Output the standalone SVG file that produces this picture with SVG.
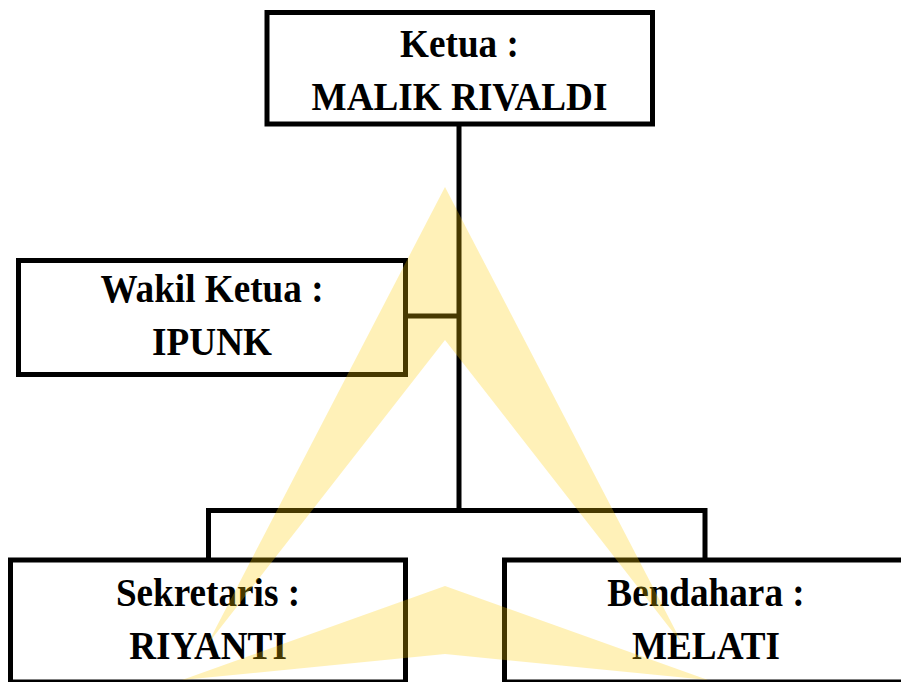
<svg xmlns="http://www.w3.org/2000/svg" width="901" height="682" viewBox="0 0 901 682">
  <style>
    .box { fill: #ffffff; stroke: #000000; stroke-width: 5; }
    .conn { fill: none; stroke: #000000; stroke-width: 5; stroke-linecap: butt; stroke-linejoin: miter; }
    .lbl { font-family: "Liberation Serif", "Times New Roman", serif; font-weight: bold; font-size: 40px; fill: #000000; text-anchor: middle; }
    .wm { fill: #FFCC00; fill-opacity: 0.28; }
  </style>
  <rect x="0" y="0" width="901" height="682" fill="#ffffff"/>
  <g id="connectors">
    <path class="conn" d="M459 124 V510.5"/>
    <path class="conn" d="M405.5 316 H459"/>
    <path class="conn" d="M208.5 560 V510.5 H705 V560"/>
  </g>
  <g id="ketua">
    <rect class="box" x="267" y="12.5" width="385.5" height="111.5"/>
    <text class="lbl" transform="translate(459.5,57) scale(0.93,1)">Ketua :</text>
    <text class="lbl" transform="translate(459.5,110) scale(0.93,1)">MALIK RIVALDI</text>
  </g>
  <g id="wakil">
    <rect class="box" x="18.5" y="260.5" width="387" height="114"/>
    <text class="lbl" transform="translate(212,302) scale(0.93,1)">Wakil Ketua :</text>
    <text class="lbl" transform="translate(212,355) scale(0.93,1)">IPUNK</text>
  </g>
  <g id="sekretaris">
    <rect class="box" x="10.5" y="560" width="395" height="122"/>
    <text class="lbl" transform="translate(208,606) scale(0.93,1)">Sekretaris :</text>
    <text class="lbl" transform="translate(208,659) scale(0.93,1)">RIYANTI</text>
  </g>
  <g id="bendahara">
    <rect class="box" x="504.5" y="560" width="403" height="122"/>
    <text class="lbl" transform="translate(706,606) scale(0.93,1)">Bendahara :</text>
    <text class="lbl" transform="translate(706,659) scale(0.93,1)">MELATI</text>
  </g>
  <g id="watermark">
    <polygon class="wm" points="445,187 683,645 445,340 207,645"/>
    <polygon class="wm" points="445,586 708,680 445,654 182,680"/>
  </g>
</svg>
